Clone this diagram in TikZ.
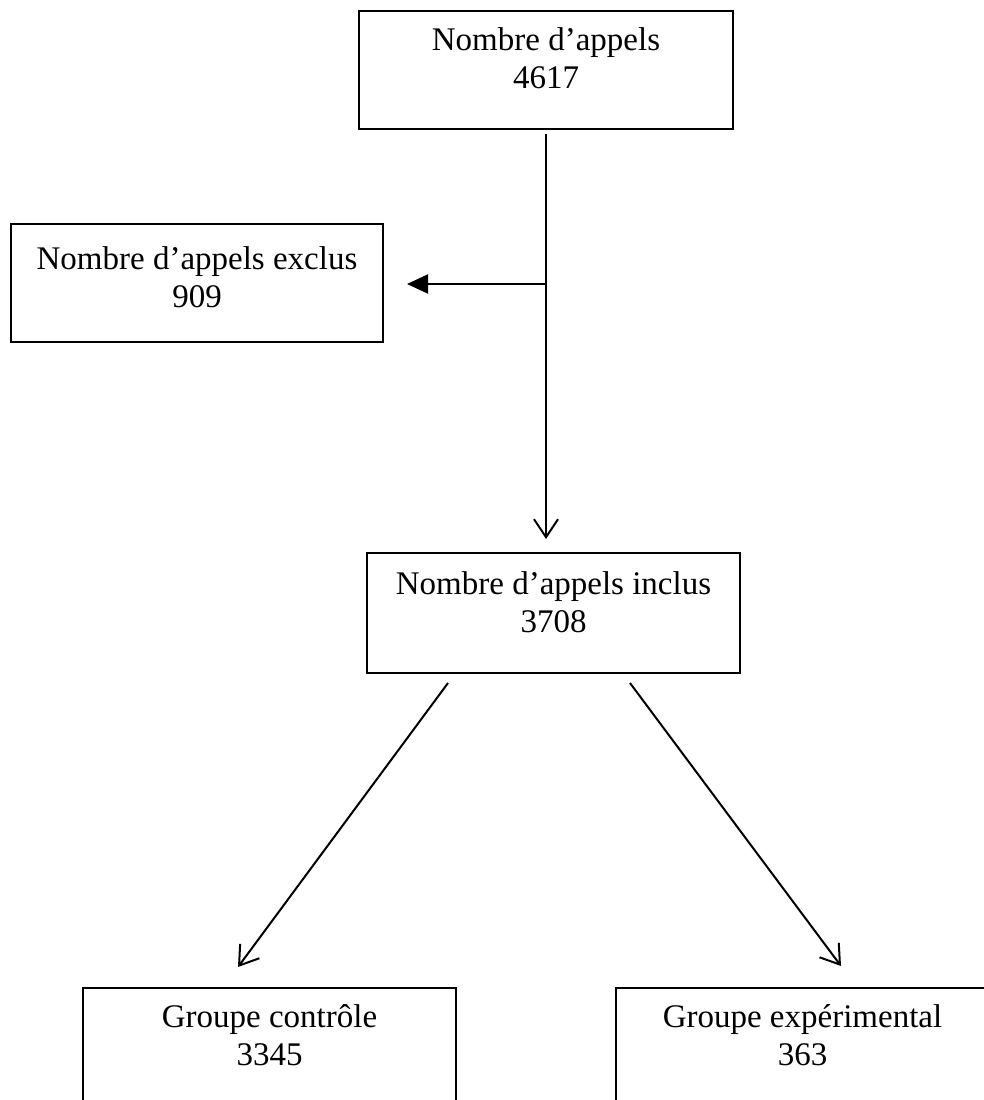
\documentclass[tikz,border=0pt]{standalone}
\usepackage{fontspec}
\setmainfont{Liberation Serif}
\usetikzlibrary{arrows.meta}
\begin{document}
\begin{tikzpicture}[x=1pt,y=1pt,
  box/.style={draw=black,line width=2pt,rectangle,inner sep=0pt},
  txt/.style={align=center,inner sep=0pt,font=\fontsize{33}{38}\selectfont},
  vee/.style={line width=2pt,-{Straight Barb[length=18pt,width=24pt,line width=2pt]}},
  tri/.style={line width=2pt,-{Triangle[length=21pt,width=19pt]}}]
\clip (0,0) rectangle (984,-1100);
\useasboundingbox (0,0) rectangle (984,-1100);
\node[box,minimum width=374pt,minimum height=118pt] (top) at (546,-70) {};
\node[box,minimum width=372pt,minimum height=118pt] (exc) at (197,-283) {};
\node[box,minimum width=373pt,minimum height=120pt] (inc) at (553.5,-613) {};
\node[box,minimum width=373pt,minimum height=140pt] (ctrl) at (269.5,-1058) {};
\node[box,minimum width=373pt,minimum height=140pt] (expe) at (802.5,-1058) {};
\node[txt,anchor=base] (ttop) at ([yshift=-78pt]top.north) {Nombre d’appels\\4617};
\node[txt,anchor=base] (texc) at ([yshift=-84pt]exc.north) {Nombre d’appels exclus\\909};
\node[txt,anchor=base] (tinc) at ([yshift=-80pt]inc.north) {Nombre d’appels inclus\\3708};
\node[txt,anchor=base] (tctrl) at ([yshift=-78pt]ctrl.north) {Groupe contrôle\\3345};
\node[txt,anchor=base] (texp) at ([yshift=-78pt]expe.north) {Groupe expérimental\\363};
\coordinate (j) at (546,-284);
\draw[vee] ([yshift=-4pt]top.south) -- ([yshift=13pt]top.south |- inc.north);
\draw[tri] (j) -- ([xshift=23pt]exc.east |- j);
\draw[vee] ([xshift=-105.5pt,yshift=-9pt]inc.south) -- ([xshift=-31.5pt,yshift=20pt]ctrl.north);
\draw[vee] ([xshift=76.5pt,yshift=-9pt]inc.south) -- ([xshift=38.5pt,yshift=21pt]expe.north);
\end{tikzpicture}
\end{document}
